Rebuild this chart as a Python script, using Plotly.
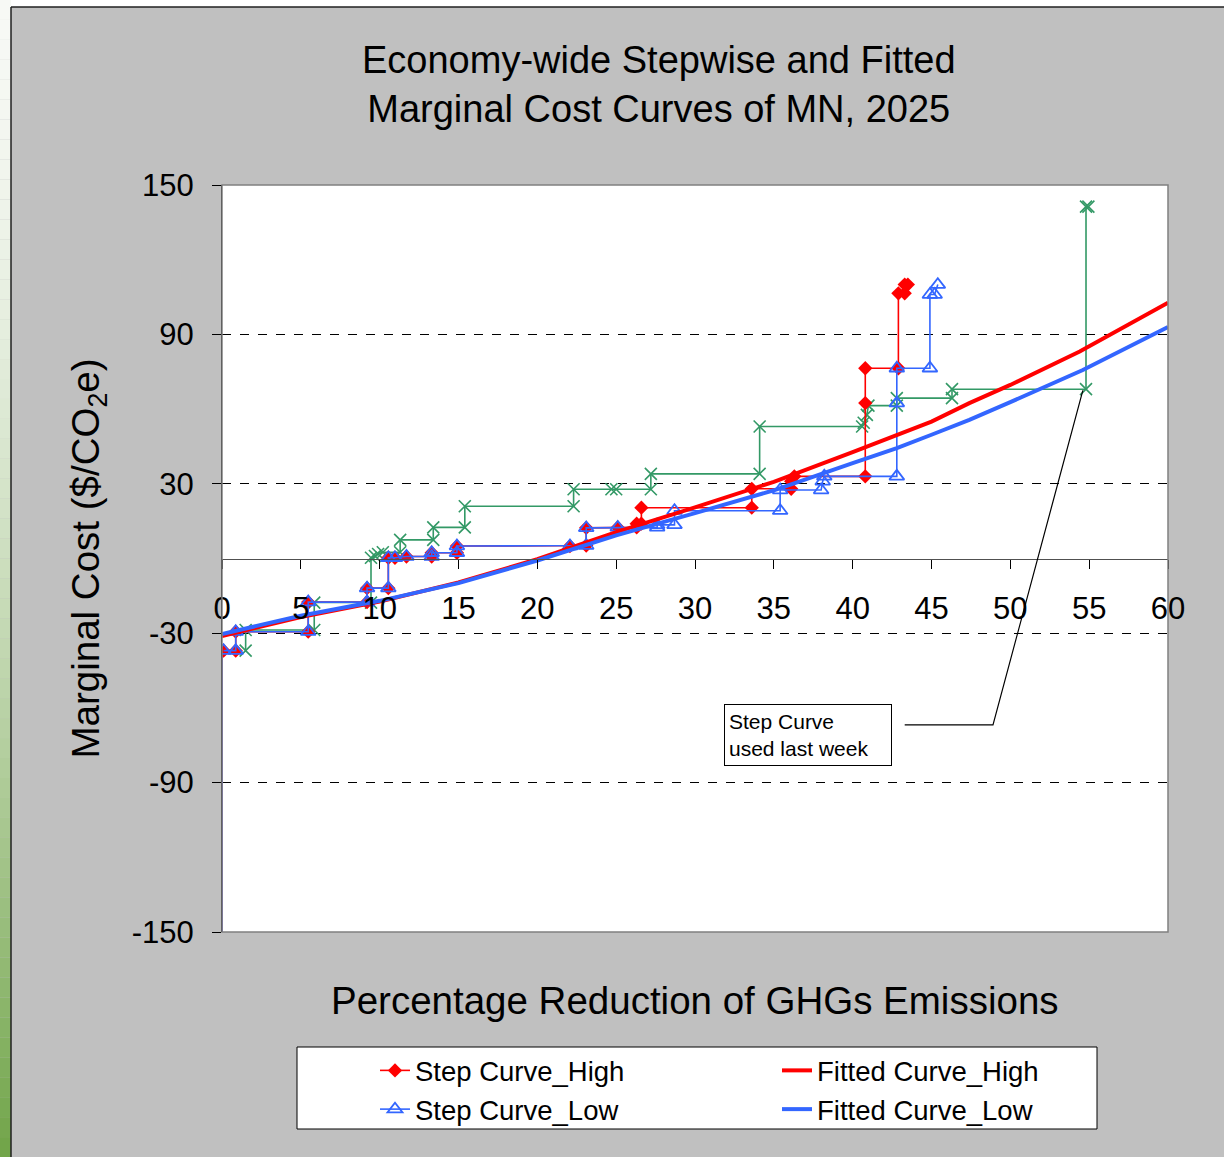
import plotly.graph_objects as go

# ---- data -------------------------------------------------------------
# Step curve, high cost case (percent reduction, $/tCO2e)
step_high_x = [0.1, 0.87, 0.87, 5.47, 5.47, 9.2, 9.2, 10.55, 10.55, 10.97, 11.7, 13.3, 13.3,
               14.9, 14.9, 22.07, 23.1, 23.1, 25.1, 26.3, 26.3, 26.6, 26.6, 33.6, 33.6,
               36.1, 36.1, 36.3, 40.8, 40.8, 40.8, 42.9, 42.9, 43.3, 43.3, 43.5]
step_high_y = [-37, -37, -29.4, -29.4, -17.5, -17.5, -11.9, -11.9, 0.3, 0.3, 0.8, 0.8, 2.3,
               2.3, 5.0, 5.0, 5.2, 12.3, 12.5, 12.5, 14.0, 14.0, 20.4, 20.4, 28.0,
               28.0, 31.0, 33.0, 33.0, 62.4, 76.4, 76.4, 106.5, 106.5, 110.0, 110.0]

# Step curve, low cost case
step_low_x = [0.1, 0.87, 0.87, 5.47, 5.47, 9.2, 9.2, 10.55, 10.55, 10.97, 11.7, 13.3, 13.3,
              14.9, 14.9, 22.07, 23.1, 23.1, 25.1, 27.6, 27.6, 28.7, 28.7, 35.4, 35.4,
              38.0, 38.1, 38.2, 42.8, 42.8, 42.8, 44.9, 44.9, 45.2, 45.4]
step_low_y = [-37, -37, -29.4, -29.4, -17.5, -17.5, -11.9, -11.9, 0.3, 0.3, 0.8, 0.8, 2.3,
              2.3, 5.0, 5.0, 5.2, 12.3, 12.5, 12.5, 13.5, 13.5, 19.2, 19.2, 27.5,
              27.5, 31.0, 33.0, 33.0, 62.4, 76.4, 76.4, 106.0, 106.0, 110.0]

# Step curve from the previous week's run
step_prev_x = [1.5, 1.5, 5.85, 5.85, 9.45, 9.45, 9.7, 9.9, 10.2, 11.3, 11.3, 13.4, 13.4,
               15.4, 15.4, 22.3, 22.3, 24.7, 25.0, 27.2, 27.2, 34.1, 34.1, 40.6, 40.7,
               40.9, 41.0, 42.8, 42.8, 46.3, 46.3, 54.8, 54.8, 54.95]
step_prev_y = [-37, -28.7, -28.7, -17.7, -17.7, 0.3, 1.0, 1.8, 2.5, 2.5, 7.5, 7.5, 12.5,
               12.5, 21.0, 21.0, 27.8, 27.8, 27.8, 27.8, 34.0, 34.0, 53.0, 53.0, 54.5,
               57.7, 61.4, 61.4, 64.4, 64.4, 68.0, 68.0, 141.3, 141.3]

# Vertical lead-in of the step curves at zero reduction
lead_x = [0, 0]
lead_y = [-150, -37]

# Fitted marginal cost curves
fit_high_x = [0, 5, 10, 15, 20, 25, 30, 35, 40, 42, 45, 47.4, 50, 54.4, 60]
fit_high_y = [-31.1, -23.5, -17.3, -9.6, -0.3, 10.6, 20.5, 30.8, 42.7, 47.6, 55.0, 62.4,
              69.7, 83.1, 102.7]
fit_low_x = [0, 5, 10, 15, 20, 25, 30, 35, 40, 42.8, 45, 47.4, 50, 54.6, 60]
fit_low_y = [-30.3, -23.0, -17.0, -9.9, -0.8, 9.3, 18.2, 27.4, 38.3, 44.3, 49.7, 55.7,
             62.8, 75.7, 93.0]

x_ticks = list(range(0, 61, 5))
y_ticks = [-150, -90, -30, 30, 90, 150]
y_tick_text = ["-150", "-90", "-30", "30", "90", "150"]

# ---- colours / fonts --------------------------------------------------
RED = "#FF0000"
BLUE = "#3366FF"
GREEN = "#339966"
PURPLE = "#6A5CD6"
FONT = "Liberation Sans, Arial, sans-serif"

W, H = 1224, 1157
ML, MR, MT, MB = 222, 56, 185, 225
PW = W - ML - MR
PH = H - MT - MB


def px(xp):
    return (xp - ML) / PW


def py(yp):
    return (H - MB - yp) / PH


fig = go.Figure()

fig.add_trace(go.Scatter(x=lead_x, y=lead_y, mode="lines",
                         line=dict(color=PURPLE, width=2), showlegend=False,
                         hoverinfo="skip"))

fig.add_trace(go.Scatter(
    x=step_prev_x, y=step_prev_y, mode="lines+markers", name="Step Curve used last week",
    line=dict(color=GREEN, width=1.6),
    marker=dict(symbol="x-thin-open", size=12, line=dict(color=GREEN, width=1.6)),
    showlegend=False))

fig.add_trace(go.Scatter(
    x=step_high_x, y=step_high_y, mode="lines+markers", name="Step Curve_High",
    line=dict(color=RED, width=1.6),
    marker=dict(symbol="diamond", size=11, color=RED),
    legendrank=1))

fig.add_trace(go.Scatter(
    x=step_low_x, y=step_low_y, mode="lines+markers", name="Step Curve_Low",
    line=dict(color=BLUE, width=1.6),
    marker=dict(symbol="triangle-up-open", size=13, color=BLUE, line=dict(width=1.8)),
    legendrank=3))

fig.add_trace(go.Scatter(
    x=fit_high_x, y=fit_high_y, mode="lines", name="Fitted Curve_High",
    line=dict(color=RED, width=4), legendrank=2))

fig.add_trace(go.Scatter(
    x=fit_low_x, y=fit_low_y, mode="lines", name="Fitted Curve_Low",
    line=dict(color=BLUE, width=4), legendrank=4))

shapes = []
# white strip along the top and a green gradient strip along the left edge
shapes.append(dict(type="rect", xref="paper", yref="paper", x0=px(0), x1=px(W),
                   y0=py(7), y1=py(0), fillcolor="white", line=dict(width=0), layer="below"))
n = 58
for i in range(n):
    t0 = i / n
    t = (t0 + 0.5 / n) ** 1.6
    c0 = (247, 249, 245)
    c1 = (112, 164, 72)
    col = "rgb(%d,%d,%d)" % tuple(int(round(a + (b - a) * t)) for a, b in zip(c0, c1))
    shapes.append(dict(type="rect", xref="paper", yref="paper", x0=px(0), x1=px(11),
                       y0=py(H * (i + 1) / n), y1=py(H * i / n), fillcolor=col,
                       line=dict(width=0), layer="below"))
# dark outline of the grey panel
shapes.append(dict(type="line", xref="paper", yref="paper", x0=px(11), x1=px(11),
                   y0=py(H), y1=py(7), line=dict(color="#202020", width=1.5)))
shapes.append(dict(type="line", xref="paper", yref="paper", x0=px(11), x1=px(W),
                   y0=py(7), y1=py(7), line=dict(color="#202020", width=1.5)))
# plot area frame
shapes.append(dict(type="rect", xref="paper", yref="paper", x0=0, x1=1, y0=0, y1=1,
                   line=dict(color="#808080", width=1.5)))
# legend box
shapes.append(dict(type="rect", xref="paper", yref="paper", x0=px(297), x1=px(1097),
                   y0=py(1129), y1=py(1047), fillcolor="white",
                   line=dict(color="black", width=1)))
# leader line from the note to last week's curve
shapes.append(dict(type="path", xref="x", yref="y",
                   path="M 43.3,-66.8 L 48.9,-66.8 L 54.6,67.5",
                   line=dict(color="black", width=1.2)))

annotations = [
    dict(text="Economy-wide Stepwise and Fitted<br>Marginal Cost Curves of MN, 2025",
         xref="paper", yref="paper", x=px(659), y=py(85), showarrow=False,
         font=dict(family=FONT, size=38, color="black"), xanchor="center", yanchor="middle"),
    dict(text="Marginal Cost ($/CO<sub>2</sub>e)", xref="paper", yref="paper",
         x=px(88), y=0.5, textangle=-90, showarrow=False,
         font=dict(family=FONT, size=38.5, color="black"), xanchor="center", yanchor="middle"),
    dict(text="Percentage Reduction of GHGs Emissions", xref="paper", yref="paper",
         x=px(695), y=py(1000), showarrow=False,
         font=dict(family=FONT, size=38.5, color="black"), xanchor="center", yanchor="middle"),
    dict(text="Step Curve<br>used last week", xref="paper", yref="paper",
         x=px(724), y=py(704), xanchor="left", yanchor="top", align="left",
         showarrow=False, bgcolor="white", bordercolor="black", borderwidth=1,
         borderpad=4, width=158, height=52,
         font=dict(family=FONT, size=21, color="black")),
]

fig.update_layout(
    width=W, height=H, autosize=False,
    margin=dict(l=ML, r=MR, t=MT, b=MB, pad=0),
    paper_bgcolor="#C0C0C0", plot_bgcolor="white",
    font=dict(family=FONT, color="black"),
    shapes=shapes, annotations=annotations,
    xaxis=dict(range=[0, 60], tickvals=x_ticks, ticks="outside", ticklen=9,
               tickcolor="black", tickwidth=1, showline=True, linecolor="#505050",
               linewidth=1, showgrid=False, zeroline=False, anchor="free", position=0.5,
               tickfont=dict(family=FONT, size=31, color="black"), ticklabelstandoff=13),
    yaxis=dict(range=[-150, 150], tickvals=y_ticks, ticktext=y_tick_text, ticks="outside",
               ticklen=9, tickcolor="black", showline=True, linecolor="black", linewidth=1,
               showgrid=True, gridcolor="black", griddash="dash", gridwidth=1,
               zeroline=False, tickfont=dict(family=FONT, size=31, color="black"),
               ticklabelstandoff=12),
    legend=dict(orientation="h", x=px(375), y=py(1046), xanchor="left", yanchor="top",
                bgcolor="rgba(0,0,0,0)", borderwidth=0, entrywidth=357,
                font=dict(family=FONT, size=27.5, color="black"), traceorder="normal"),
    showlegend=True,
)

fig.write_html("out.html")
